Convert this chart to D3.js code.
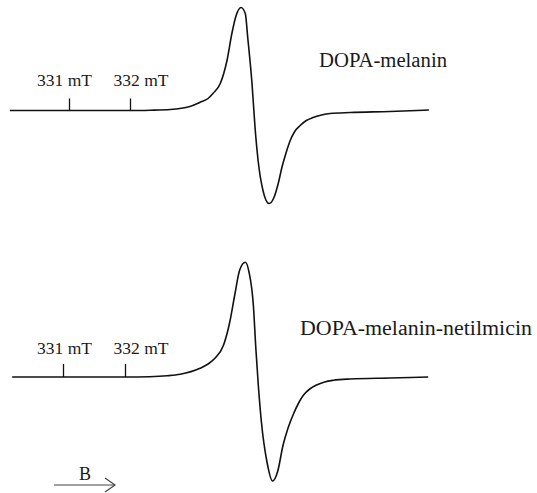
<!DOCTYPE html>
<html>
<head>
<meta charset="utf-8">
<script src="https://cdn.jsdelivr.net/npm/d3@7"></script>
<style>
  html, body { margin: 0; padding: 0; background: #fff; }
  svg { display: block; }
  text { font-family: "Liberation Serif", "Times New Roman", serif; fill: #1a1a1a; }
</style>
</head>
<body>
<svg id="chart"></svg>
<script>
// EPR spectra (field in mT, signal in arbitrary units)
var sampleLabels = ["DOPA-melanin", "DOPA-melanin-netilmicin"];
var tickValues = [331, 332];
var tickLabels = ["331 mT", "332 mT"];

var fieldTop = [330.03, 331.00, 332.00, 332.33, 332.66, 332.98, 333.15, 333.28, 333.36, 333.48,
  333.59, 333.67, 333.74, 333.82, 333.89, 333.93, 334.00, 334.05, 334.10, 334.18,
  334.28, 334.36, 334.43, 334.49, 334.56, 334.62, 334.70, 334.79, 334.89, 335.00,
  335.14, 335.28, 335.61, 336.26, 336.90];
var signalTop = [0, 0, 0, 0.3, 1.0, 4, 8.3, 12, 17, 27,
  50, 77, 95, 103, 97, 73, 27, -17, -50, -80,
  -93, -87, -73, -57, -42, -31, -21, -15, -10, -7,
  -4.5, -3, -2, -1, 0.5];

var fieldBottom = [330.18, 331.00, 332.00, 332.40, 332.68, 332.89, 333.21, 333.34, 333.45, 333.59,
  333.69, 333.77, 333.85, 333.94, 334.00, 334.07, 334.11, 334.15, 334.20, 334.29,
  334.38, 334.46, 334.55, 334.63, 334.71, 334.80, 334.88, 334.98, 335.09, 335.22,
  335.36, 335.63, 336.27, 336.89];
var signalBottom = [0, 0, 0, 0.3, 1.2, 2.7, 8.7, 13, 18.7, 32,
  55, 82, 107, 114.7, 105, 72, 29, -8, -45, -85,
  -104, -95, -68, -51, -38, -26, -18, -12, -8, -5,
  -3.3, -2, -1, 0];

var svgWidth = 537, svgHeight = 493;
var svg = d3.select("#chart")
  .attr("width", svgWidth)
  .attr("height", svgHeight);

// each panel: its own field scale and signal scale
var panels = [
  { field: fieldTop, signal: signalTop, label: sampleLabels[0],
    x: d3.scaleLinear().domain([331, 332]).range([69, 130]),
    y: d3.scaleLinear().domain([0, 100]).range([110.5, 10.5]),
    tickSize: 12, tickPad: 13, labelDx: [-5, 10.5], labelX: 319, labelY: 67, labelLen: 128 },
  { field: fieldBottom, signal: signalBottom, label: sampleLabels[1],
    x: d3.scaleLinear().domain([331, 332]).range([63, 125]),
    y: d3.scaleLinear().domain([0, 100]).range([377, 277]),
    tickSize: 13, tickPad: 10.5, labelDx: [1, 15.5], labelX: 300, labelY: 335, labelLen: 232 }
];

panels.forEach(function(p) {
  var pts = p.field.map(function(f, i) { return [f, p.signal[i]]; });

  var line = d3.line()
    .x(function(d) { return p.x(d[0]); })
    .y(function(d) { return p.y(d[1]); })
    .curve(d3.curveMonotoneX);

  svg.append("path")
    .datum(pts)
    .attr("fill", "none")
    .attr("stroke", "#111")
    .attr("stroke-width", 1.6)
    .attr("stroke-linejoin", "round")
    .attr("d", line);

  // field markers sit on the baseline, pointing up
  var axis = d3.axisTop(p.x)
    .tickValues(tickValues)
    .tickSize(p.tickSize)
    .tickPadding(p.tickPad)
    .tickFormat(function(d, i) { return tickLabels[i]; });

  var g = svg.append("g")
    .attr("transform", "translate(0," + p.y(0) + ")")
    .call(axis)
    .attr("font-family", "Liberation Serif, Times New Roman, serif")
    .attr("font-size", 17.5);
  g.select(".domain").remove();
  g.selectAll(".tick line").attr("stroke", "#111").attr("stroke-width", 1.3);
  g.selectAll(".tick text")
    .attr("dx", function(d, i) { return p.labelDx[i]; })
    .attr("fill", "#1a1a1a");

  svg.append("text")
    .attr("x", p.labelX)
    .attr("y", p.labelY)
    .attr("textLength", p.labelLen)
    .attr("lengthAdjust", "spacingAndGlyphs")
    .style("font-size", "20px")
    .text(p.label);
});

// field direction arrow
svg.append("text")
  .attr("x", 79)
  .attr("y", 480)
  .style("font-size", "18px")
  .text("B");

svg.append("line")
  .attr("x1", 54).attr("y1", 485)
  .attr("x2", 115).attr("y2", 485)
  .attr("stroke", "#444").attr("stroke-width", 1.2);

svg.append("path")
  .attr("d", "M105,478L115,485L105,492")
  .attr("fill", "none")
  .attr("stroke", "#444")
  .attr("stroke-width", 1.2);
</script>
</body>
</html>
